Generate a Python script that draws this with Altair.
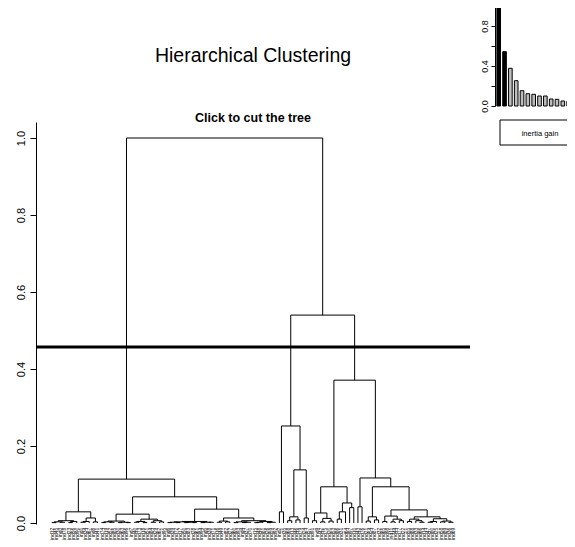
import re
import altair as alt
import pandas as pd

# ---------------- data ----------------
# dendrogram written as nested merges "(left,right)height", "*" = one individual
A1a = "(((*,*)0.001,(*,*)0.002)0.003,((*,*)0.001,*)0.004)0.006"
A1b = "(((*,*)0.002,*)0.004,(*,*)0.003)0.013"
A2aL = "(((*,*)0.001,(*,*)0.002)0.003,((*,*)0.001,(*,*)0.001)0.002)0.005"
A2aR = "(((*,*)0.002,(*,*)0.001)0.004,((*,*)0.002,(*,*)0.003)0.006)0.010"
A2bL = "((((*,*)0.001,(*,*)0.001)0.002,((*,*)0.001,(*,*)0.001)0.002)0.003,((*,*)0.001,(*,*)0.002)0.002)0.004"
A2bRL = "((*,*)0.002,(*,*)0.003)0.005"
A2bRR = "(((*,*)0.001,((*,*)0.001,*)0.002)0.003,(((*,*)0.001,*)0.002,((*,*)0.001,*)0.002)0.004)0.006"
B1 = "((*,*)0.029,(((*,*)0.006,(*,*)0.008)0.016,(*,*)0.013)0.138)0.252"
B2aL = "((*,*)0.006,((*,*)0.003,(*,*)0.005)0.012)0.026"
B2aR = "(((*,*)0.010,*)0.029,(*,*)0.040)0.052"
B2bL = "(*,*)0.042"
B2bRL = "((*,*)0.005,(*,*)0.008)0.016"
B2bRRL = "((*,*)0.004,((*,*)0.003,(*,*)0.006)0.010)0.018"
B2bRRR = "(((*,*)0.004,(*,(*,*)0.002)0.006)0.010,(((*,*)0.002,*)0.004,((*,*)0.003,(*,*)0.002)0.005)0.011)0.016"

A = f"(({A1a},{A1b})0.029,(({A2aL},{A2aR})0.023,({A2bL},({A2bRL},{A2bRR})0.013)0.036)0.068)0.114"
B2 = f"(({B2aL},{B2aR})0.094,({B2bL},({B2bRL},({B2bRRL},{B2bRRR})0.034)0.094)0.117)0.371"
TREE = f"({A},({B1},{B2})0.540)1.000"

leaf_ids = [12, 45, 3, 78, 23, 56, 90, 1, 34, 67, 8, 41, 74, 19, 52, 85, 30, 63, 96, 7,
            40, 73, 18, 51, 84, 29, 62, 95, 6, 39, 72, 17, 50, 83, 28, 61, 94, 5, 38, 71,
            16, 49, 82, 27, 60, 93, 4, 37, 70, 15, 48, 81, 26, 59, 92, 2, 35, 68, 13, 46,
            79, 24, 57, 91, 9, 42, 75, 20, 53, 86, 31, 64, 97, 10, 43, 76, 21, 54, 87, 32,
            65, 98, 11, 44, 77, 22, 55, 88, 33, 66, 14, 47, 80, 25, 58, 89, 36, 69]

cut_height = [0.457]
inertia_gain = [1.0, 0.543, 0.377, 0.253, 0.153, 0.123, 0.117, 0.100, 0.100,
                0.070, 0.067, 0.050, 0.047, 0.040]
n_clusters = 3

title_text = ["Hierarchical Clustering"]
subtitle_text = ["Click to cut the tree"]
legend_text = ["inertia gain"]


# ---------------- tree parsing / layout ----------------
def parse(s):
    pos = 0

    def node():
        nonlocal pos
        if s[pos] == "*":
            pos += 1
            return None
        pos += 1  # (
        left = node()
        pos += 1  # ,
        right = node()
        pos += 1  # )
        m = re.match(r"[0-9.]+", s[pos:])
        pos += len(m.group())
        return (left, right, float(m.group()))

    return node()


segments = []
leaves = []


def place(n):
    if n is None:
        i = len(leaves)
        leaves.append(i)
        return float(i), 0.0
    xl, hl = place(n[0])
    xr, hr = place(n[1])
    h = n[2]
    segments.append({"x": xl, "x2": xl, "y": hl, "y2": h})
    segments.append({"x": xr, "x2": xr, "y": hr, "y2": h})
    segments.append({"x": xl, "x2": xr, "y": h, "y2": h})
    return (xl + xr) / 2.0, h


place(parse(TREE))
seg_df = pd.DataFrame(segments)
leaf_df = pd.DataFrame({
    "x": [float(i) for i in leaves],
    "y": [-0.012] * len(leaves),
    "label": ["ind" + str(v) for v in leaf_ids[: len(leaves)]],
})

FONT = "Liberation Sans"
W, H = 434, 402
xs = alt.Scale(domain=[-3.87, 101.11], nice=False, zero=False)
ys = alt.Scale(domain=[-0.0026, 1.0416], nice=False, zero=False)

dendro = alt.Chart(seg_df).mark_rule(color="black", strokeWidth=1).encode(
    x=alt.X("x:Q", scale=xs, axis=None),
    x2="x2:Q",
    y=alt.Y("y:Q", scale=ys, axis=alt.Axis(
        values=[0, 0.2, 0.4, 0.6, 0.8, 1.0], format=".1f", labelAngle=270,
        labelAlign="center", labelBaseline="alphabetic", tickSize=6, labelPadding=6,
        grid=False, domainColor="black", tickColor="black", labelColor="black",
        labelFont=FONT, labelFontSize=11, title=None)),
    y2="y2:Q",
)

cut = alt.Chart(pd.DataFrame({"h": cut_height})).mark_rule(color="black", strokeWidth=3).encode(
    y=alt.Y("h:Q", scale=ys)
)

leaf_labels = alt.Chart(leaf_df).mark_text(
    angle=270, align="right", baseline="middle", fontSize=5, font=FONT, color="black"
).encode(x=alt.X("x:Q", scale=xs), y=alt.Y("y:Q", scale=ys), text="label:N")

main = alt.layer(dendro, cut, leaf_labels)

bars_df = pd.DataFrame({
    "rank": list(range(1, len(inertia_gain) + 1)),
    "gain": inertia_gain,
    "sel": ["kept" if i < n_clusters - 1 else "other" for i in range(len(inertia_gain))],
})
inset = alt.Chart(bars_df).mark_bar(stroke="black", strokeWidth=1).encode(
    x=alt.X("rank:O", scale=alt.Scale(range=[460.9, 540.3], paddingInner=0.38, paddingOuter=0), axis=None),
    y=alt.Y("gain:Q", scale=alt.Scale(domain=[0, 1], range=[-16, -116], nice=False, zero=True),
            axis=alt.Axis(orient="left", offset=-459, values=[0, 0.2, 0.4, 0.6, 0.8, 1.0],
                          labelExpr="(datum.value < 0.01 || abs(datum.value - 0.4) < 0.01 || abs(datum.value - 0.8) < 0.01) ? format(datum.value, '.1f') : ''",
                          labelAngle=270, labelAlign="center", labelBaseline="alphabetic",
                          tickSize=4, labelPadding=4, grid=False, domainColor="black",
                          tickColor="black", labelColor="black", labelFont=FONT,
                          labelFontSize=9, title=None)),
    color=alt.Color("sel:N", scale=alt.Scale(domain=["kept", "other"], range=["black", "#BEBEBE"]), legend=None),
)

title = alt.Chart(pd.DataFrame({"t": title_text})).mark_text(
    font=FONT, fontSize=19.5, color="black", align="center", baseline="middle"
).encode(text="t:N", x=alt.value(217), y=alt.value(-66))

subtitle = alt.Chart(pd.DataFrame({"t": subtitle_text})).mark_text(
    font=FONT, fontSize=12.5, fontWeight="bold", color="black", align="center", baseline="middle"
).encode(text="t:N", x=alt.value(217), y=alt.value(-4))

legend_box = alt.Chart(pd.DataFrame({"t": legend_text})).mark_rect(
    fill="white", stroke="black", strokeWidth=1
).encode(x=alt.value(464), x2=alt.value(550), y=alt.value(-2), y2=alt.value(23))

legend_label = alt.Chart(pd.DataFrame({"t": legend_text})).mark_text(
    font=FONT, fontSize=7.5, color="black", align="center", baseline="middle"
).encode(text="t:N", x=alt.value(504), y=alt.value(12))

chart = alt.layer(main, inset, title, subtitle, legend_box, legend_label).resolve_scale(
    x="independent", y="independent", color="independent"
).properties(
    width=W, height=H,
    autosize=alt.AutoSizeParams(type="none"),
    padding={"left": 28, "top": 114, "right": 97, "bottom": 23},
).configure(background="white").configure_view(stroke=None)

chart.save("out.html", embed_options={"renderer": "svg", "actions": False})
